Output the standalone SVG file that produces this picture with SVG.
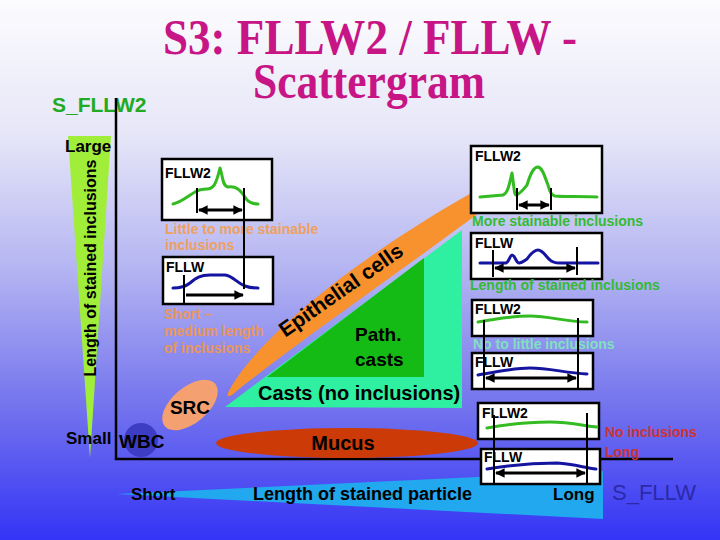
<svg xmlns="http://www.w3.org/2000/svg" width="720" height="540" viewBox="0 0 720 540">
<defs>
<linearGradient id="bg" x1="0" y1="0" x2="0" y2="1">
<stop offset="0" stop-color="#fcfcfe"/>
<stop offset="0.25" stop-color="#e6e6f8"/>
<stop offset="0.5" stop-color="#b4b4f2"/>
<stop offset="0.75" stop-color="#7474ee"/>
<stop offset="1" stop-color="#3434f6"/>
</linearGradient>
<marker id="ah" viewBox="0 0 10 10" refX="9" refY="5" markerWidth="3.2" markerHeight="3.2" orient="auto-start-reverse">
<path d="M0,0 L10,5 L0,10 Z" fill="#000"/>
</marker>
</defs>
<style>
.t{font-family:"Liberation Sans",Arial,sans-serif;font-weight:bold;fill:#000}
.box{fill:#fff;stroke:#000;stroke-width:2.5}
.lbl{font-family:"Liberation Sans",Arial,sans-serif;font-weight:bold;font-size:14px;fill:#000}
.g{fill:none;stroke:#33bb22;stroke-width:3;stroke-linejoin:round;stroke-linecap:round}
.b{fill:none;stroke:#1414a0;stroke-width:3;stroke-linejoin:round;stroke-linecap:round}
.v{stroke:#000;stroke-width:2;fill:none}
.arr{stroke:#000;stroke-width:3;fill:none;marker-start:url(#ah);marker-end:url(#ah)}
.arr1{stroke:#000;stroke-width:3;fill:none;marker-end:url(#ah)}
</style>
<rect width="720" height="540" fill="url(#bg)"/>

<g id="title" font-family="'Liberation Serif','Times New Roman',serif" font-weight="bold" font-size="50" fill="#c71585">
<text x="163" y="54" textLength="414" lengthAdjust="spacingAndGlyphs">S3: FLLW2 / FLLW -</text>
<text x="253" y="98" textLength="232" lengthAdjust="spacingAndGlyphs">Scattergram</text>
</g>

<g id="y-axis">
<polygon points="68,136 111,136 90,458" fill="#a0ee3a"/>
<text class="t" font-size="16" transform="translate(96,268) rotate(-90)" text-anchor="middle">Length of stained inclusions</text>
<text class="t" font-size="17" x="65" y="152">Large</text>
<text class="t" font-size="17" x="66" y="444">Small</text>
<text x="52" y="112" font-family="'Liberation Sans',Arial,sans-serif" font-weight="bold" font-size="21" fill="#22aa22">S_FLLW2</text>
</g>

<g id="x-axis">
<polygon points="117,494 603,471 603,519" fill="#22a8ee"/>
<text class="t" font-size="17" x="131" y="500">Short</text>
<text class="t" font-size="18" x="253" y="500">Length of stained particle</text>
<text class="t" font-size="17" x="553" y="500">Long</text>
<text x="612" y="500" font-family="'Liberation Sans',Arial,sans-serif" font-size="22" fill="#2a2aa8">S_FLLW</text>
</g>

<g id="connectors">
<path d="M116,98 V459 H673" stroke="#000" stroke-width="2.5" fill="none"/>
</g>

<g id="casts">
<polygon points="225,407 462,230 462,408" fill="#2ef0a0"/>
<text class="t" font-size="20" x="258" y="400">Casts (no inclusions)</text>
</g>
<g id="path-casts">
<polygon points="267,377 424,258 424,377" fill="#14bb14"/>
<text class="t" font-size="19" x="355" y="341">Path.</text>
<text class="t" font-size="19" x="355" y="366">casts</text>
</g>
<g id="epithelial">
<path d="M228,393 C245,355 330,272 480,188 L480,212 C400,272 290,347 232,395 Q226,398 228,393 Z" fill="#f7922e"/>
<text class="t" font-size="21" text-anchor="middle" transform="translate(345,296) rotate(-35)">Epithelial cells</text>
</g>
<g id="src">
<ellipse cx="190" cy="405" rx="33" ry="18" transform="rotate(-40 190 405)" fill="#f4a070"/>
<text class="t" font-size="19" x="190" y="414" text-anchor="middle">SRC</text>
</g>
<g id="wbc">
<circle cx="141" cy="440" r="17" fill="#3c3cc4"/>
<text class="t" font-size="19" x="119" y="448">WBC</text>
</g>
<g id="mucus">
<ellipse cx="347" cy="443" rx="131" ry="15" fill="#cc3a08"/>
<text class="t" font-size="20" x="343" y="450" text-anchor="middle">Mucus</text>
</g>

<g id="box-left-fllw2">
<rect class="box" x="162" y="159" width="110" height="61"/>
<text class="lbl" x="165" y="178">FLLW2</text>
<path class="g" d="M173,204 C182,202 188,196 195,192 C200,189 204,189 207,189 C213,189 216,185 220,168 C223,176 222,186 228,187 C236,186 240,189 247,200 C250,203 254,204 258,204"/>
<line class="v" x1="197" y1="188" x2="197" y2="213"/>
<line class="arr" x1="199" y1="210" x2="242" y2="210"/>
</g>
<text class="t" font-size="14" x="165" y="234" style="fill:#eea060">Little to more stainable</text>
<text class="t" font-size="14" x="165" y="250" style="fill:#eea060">inclusions</text>

<g id="box-left-fllw">
<rect class="box" x="163" y="257" width="110" height="47"/>
<text class="lbl" x="166" y="272">FLLW</text>
<path class="b" d="M173,288 C180,288 185,287 190,283 C196,278 200,275 210,275 L225,275 C233,276 237,283 245,286 C250,288 254,288 258,288"/>
<line class="v" x1="184" y1="275" x2="184" y2="303"/>
<line class="arr1" x1="186" y1="295" x2="243" y2="295"/>
</g>
<line class="v" x1="244" y1="188" x2="244" y2="289"/>
<g id="short-label" font-family="'Liberation Sans',Arial,sans-serif" font-weight="bold" font-size="14" fill="#e8965a">
<text x="164" y="319">Short –</text>
<text x="164" y="336">medium length</text>
<text x="164" y="353">of inclusions</text>
</g>

<g id="box-right-fllw2-a">
<rect class="box" x="471" y="146" width="131" height="67"/>
<text class="lbl" x="475" y="161">FLLW2</text>
<path class="g" d="M480,197 L503,195 C508,193 509,185 512,173 C514,185 514,195 516,195 C520,194 523,190 527,185 C531,172 534,167 538,167 C543,168 545,178 548,185 C550,192 551,195 555,196 C565,197 580,196 597,197"/>
<line class="v" x1="517" y1="188" x2="517" y2="210"/>
<line class="v" x1="551" y1="188" x2="551" y2="210"/>
<line class="arr" x1="519" y1="205" x2="549" y2="205"/>
</g>
<text class="t" font-size="14" x="472" y="226" style="fill:#33bb33">More stainable inclusions</text>

<g id="box-right-fllw-a">
<rect class="box" x="471" y="233" width="131" height="46"/>
<text class="lbl" x="475" y="248">FLLW</text>
<path class="b" d="M480,263 L506,263 C509,262 510,255 512,255 C515,255 516,263 519,263 C522,263 524,261 527,259 C532,252 535,250 538,250 C543,250 546,257 550,260 C553,263 556,263 560,263 L598,263"/>
<line class="v" x1="493" y1="250" x2="493" y2="277"/>
<line class="v" x1="577" y1="247" x2="577" y2="275"/>
<line class="arr" x1="495" y1="268" x2="575" y2="268"/>
</g>
<text class="t" font-size="14" x="470" y="290" style="fill:#33bb33">Length of stained inclusions</text>

<g id="box-right-fllw2-b">
<rect class="box" x="472" y="300" width="121" height="36"/>
<text class="lbl" x="475" y="314">FLLW2</text>
<path class="g" d="M478,322 C500,318 515,316 530,316 C550,316 565,322 587,322"/>
</g>
<text class="t" font-size="14" x="473" y="349" style="fill:#80e0c0">No to little inclusions</text>
<g id="box-right-fllw-b">
<rect class="box" x="472" y="353" width="121" height="36"/>
<text class="lbl" x="475" y="367">FLLW</text>
<path class="b" d="M478,375 C500,371 515,368 530,368 C550,368 565,373 587,374"/>
<line class="arr" x1="486" y1="378" x2="576" y2="378"/>
</g>
<line class="v" x1="484" y1="320" x2="484" y2="388"/>
<line class="v" x1="578" y1="318" x2="578" y2="388"/>

<g id="box-right-fllw2-c">
<rect class="box" x="478" y="403" width="121" height="36"/>
<text class="lbl" x="482" y="418">FLLW2</text>
<path class="g" d="M487,428 C510,424 530,422 550,422 C570,422 585,426 597,427"/>
</g>
<g id="box-right-fllw-c">
<rect class="box" x="481" y="449" width="119" height="35"/>
<text class="lbl" x="484" y="462">FLLW</text>
<path class="b" d="M487,469 C510,465 535,463 557,463 C575,464 585,468 596,469"/>
<line class="arr" x1="496" y1="473" x2="585" y2="473"/>
</g>
<line class="v" x1="494" y1="415" x2="494" y2="483"/>
<line class="v" x1="587" y1="413" x2="587" y2="483"/>
<text class="t" font-size="14" x="605" y="437" style="fill:#cc3333">No inclusions</text>
<text class="t" font-size="14" x="605" y="457" style="fill:#cc3333">Long</text>
</svg>
